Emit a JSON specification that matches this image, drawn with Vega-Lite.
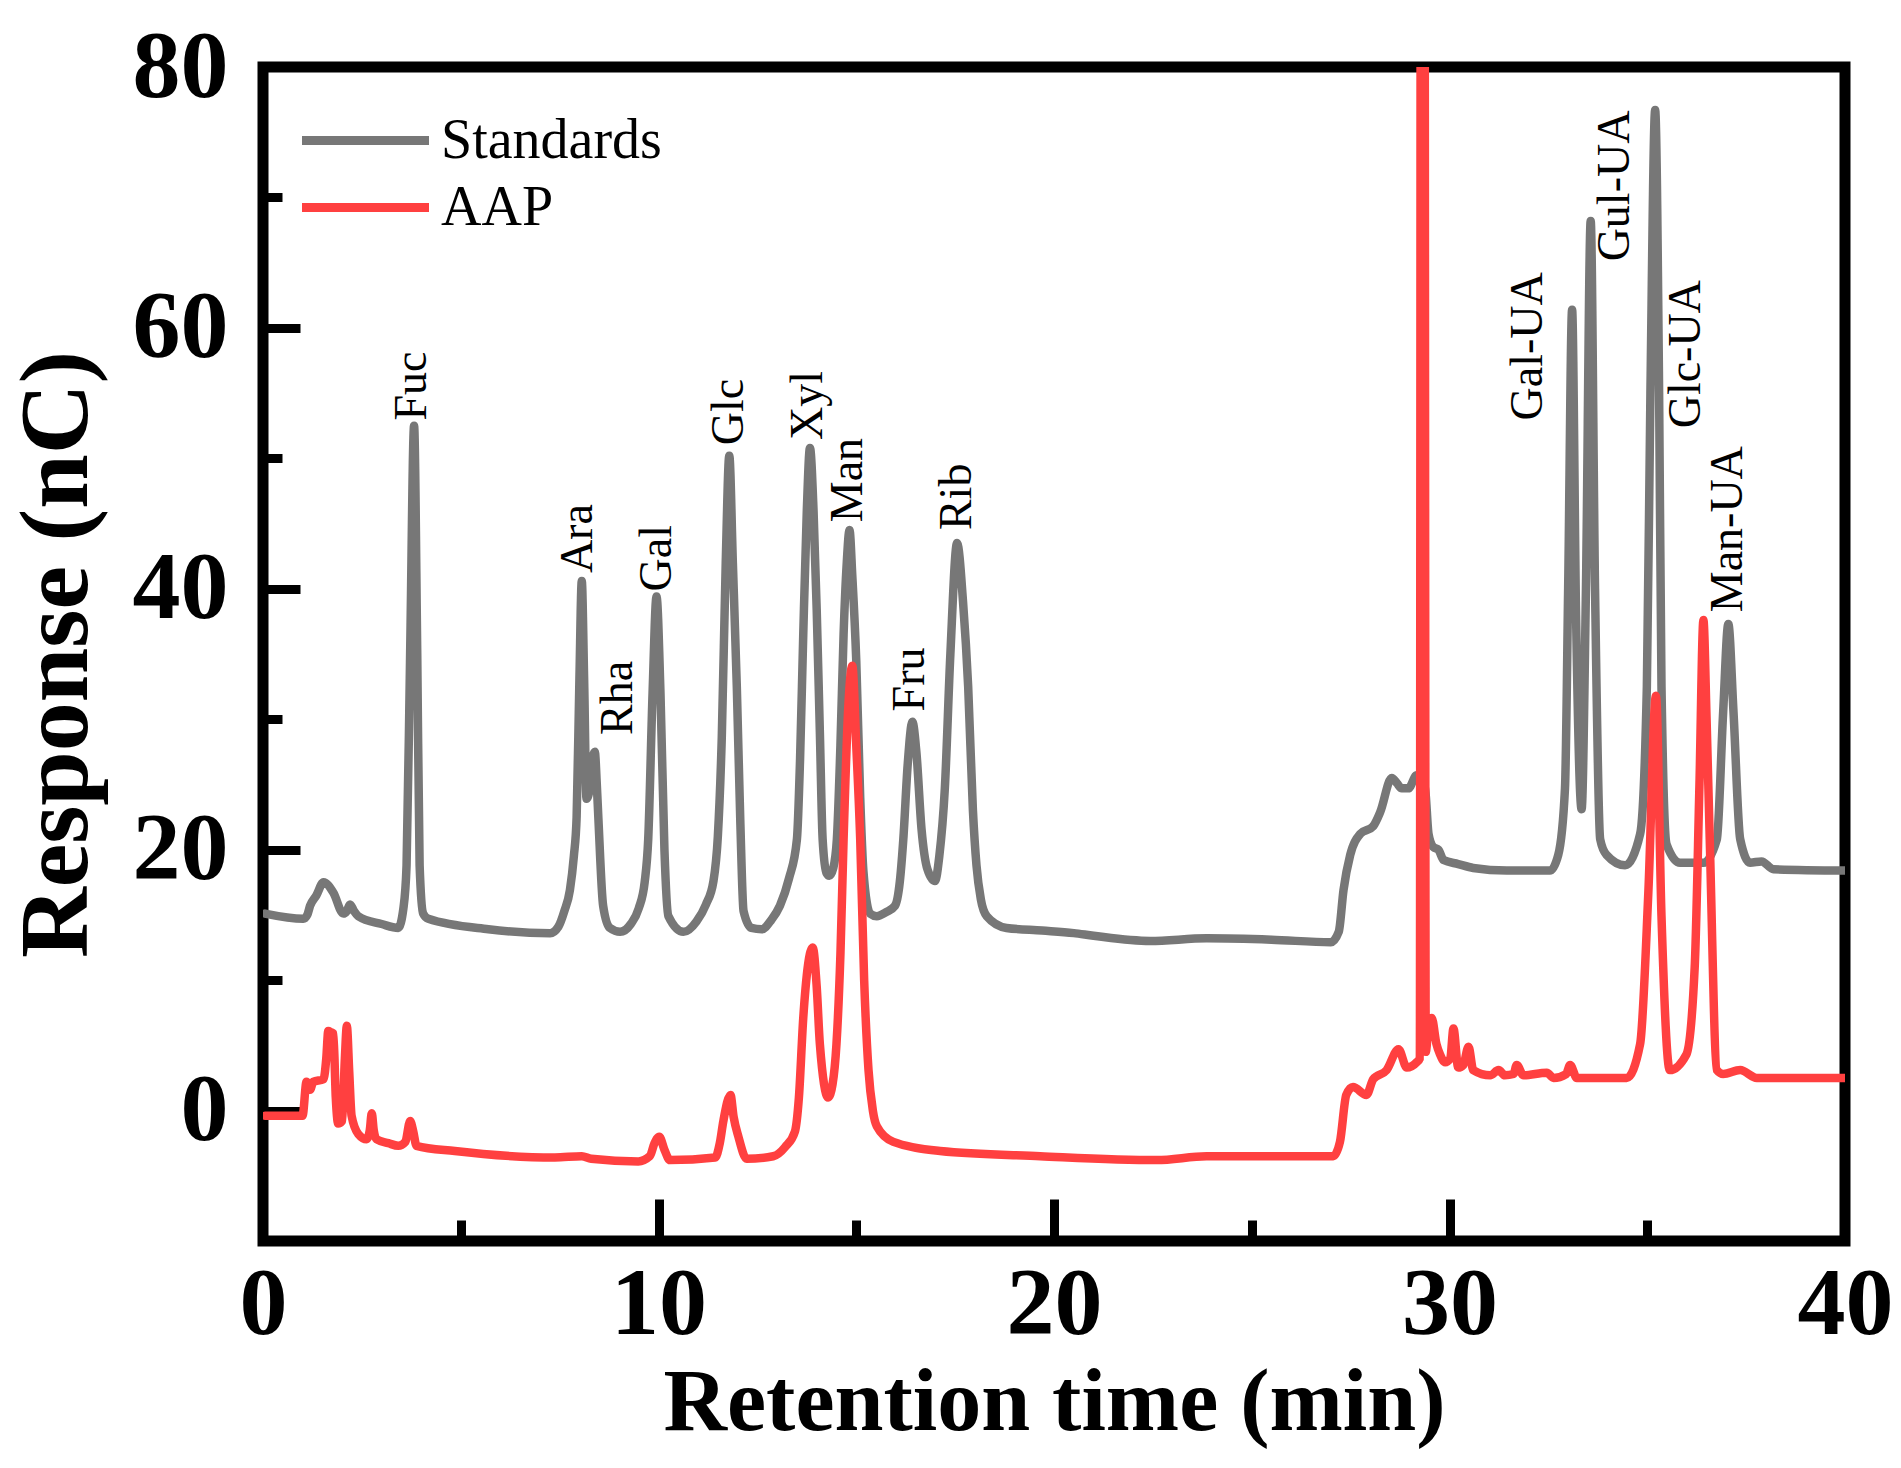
{
  "$schema": "https://vega.github.io/schema/vega-lite/v6.json",
  "autosize": {"type": "none"},
  "padding": {"left": 263, "top": 67, "right": 56, "bottom": 227},
  "width": 1582,
  "height": 1174,
  "background": "white",
  "config": {
    "view": {"stroke": "black", "strokeWidth": 11},
    "axis": {
      "domain": false,
      "grid": false,
      "tickColor": "black",
      "tickWidth": 9,
      "labelFont": "Liberation Serif",
      "labelFontWeight": "bold",
      "labelFontSize": 96,
      "labelColor": "black",
      "labelFlush": false,
      "labelOverlap": false,
      "labelBound": false,
      "titleFont": "Liberation Serif",
      "titleFontWeight": "bold",
      "titleColor": "black"
    }
  },
  "datasets": {
    "curves": [
      {"series": "Standards", "time": 0.05, "response": 15.1},
      {"series": "Standards", "time": 1.02, "response": 14.7},
      {"series": "Standards", "time": 1.12, "response": 15.0},
      {"series": "Standards", "time": 1.19, "response": 15.7},
      {"series": "Standards", "time": 1.35, "response": 16.5},
      {"series": "Standards", "time": 1.53, "response": 17.5},
      {"series": "Standards", "time": 1.78, "response": 16.7},
      {"series": "Standards", "time": 2.03, "response": 15.1},
      {"series": "Standards", "time": 2.12, "response": 15.3},
      {"series": "Standards", "time": 2.2, "response": 15.8},
      {"series": "Standards", "time": 2.3, "response": 15.3},
      {"series": "Standards", "time": 2.41, "response": 14.9},
      {"series": "Standards", "time": 3.0, "response": 14.3},
      {"series": "Standards", "time": 3.42, "response": 14.0},
      {"series": "Standards", "time": 3.55, "response": 15.5},
      {"series": "Standards", "time": 3.63, "response": 18.8},
      {"series": "Standards", "time": 3.72, "response": 35},
      {"series": "Standards", "time": 3.82, "response": 52.5},
      {"series": "Standards", "time": 3.9, "response": 35},
      {"series": "Standards", "time": 3.96, "response": 18.8},
      {"series": "Standards", "time": 4.05, "response": 15.1},
      {"series": "Standards", "time": 4.18, "response": 14.7},
      {"series": "Standards", "time": 5.7, "response": 13.9},
      {"series": "Standards", "time": 7.26, "response": 13.6},
      {"series": "Standards", "time": 7.47, "response": 14.1},
      {"series": "Standards", "time": 7.62, "response": 15.3},
      {"series": "Standards", "time": 7.76, "response": 16.9},
      {"series": "Standards", "time": 7.86, "response": 19.5},
      {"series": "Standards", "time": 7.93, "response": 22.5},
      {"series": "Standards", "time": 8.0, "response": 33},
      {"series": "Standards", "time": 8.06, "response": 40.6},
      {"series": "Standards", "time": 8.12, "response": 33},
      {"series": "Standards", "time": 8.18, "response": 23.9},
      {"series": "Standards", "time": 8.25, "response": 24.5},
      {"series": "Standards", "time": 8.33, "response": 27},
      {"series": "Standards", "time": 8.39, "response": 27.5},
      {"series": "Standards", "time": 8.44, "response": 25},
      {"series": "Standards", "time": 8.48, "response": 22.4},
      {"series": "Standards", "time": 8.6, "response": 15.7},
      {"series": "Standards", "time": 8.77, "response": 14.0},
      {"series": "Standards", "time": 9.03, "response": 13.7},
      {"series": "Standards", "time": 9.3, "response": 14.3},
      {"series": "Standards", "time": 9.5, "response": 15.5},
      {"series": "Standards", "time": 9.65, "response": 17.5},
      {"series": "Standards", "time": 9.74, "response": 20.8},
      {"series": "Standards", "time": 9.85, "response": 32},
      {"series": "Standards", "time": 9.95, "response": 39.4},
      {"series": "Standards", "time": 10.05, "response": 32},
      {"series": "Standards", "time": 10.15, "response": 20},
      {"series": "Standards", "time": 10.25, "response": 14.9},
      {"series": "Standards", "time": 10.63, "response": 13.7},
      {"series": "Standards", "time": 10.96, "response": 14.5},
      {"series": "Standards", "time": 11.2, "response": 15.8},
      {"series": "Standards", "time": 11.39, "response": 17.6},
      {"series": "Standards", "time": 11.5, "response": 21},
      {"series": "Standards", "time": 11.6, "response": 28.6},
      {"series": "Standards", "time": 11.7, "response": 42},
      {"series": "Standards", "time": 11.79, "response": 50.2},
      {"series": "Standards", "time": 11.88, "response": 42},
      {"series": "Standards", "time": 11.98, "response": 32.5},
      {"series": "Standards", "time": 12.07, "response": 22},
      {"series": "Standards", "time": 12.15, "response": 15.3},
      {"series": "Standards", "time": 12.35, "response": 14.0},
      {"series": "Standards", "time": 12.61, "response": 13.9},
      {"series": "Standards", "time": 12.85, "response": 14.6},
      {"series": "Standards", "time": 13.07, "response": 15.7},
      {"series": "Standards", "time": 13.3, "response": 17.8},
      {"series": "Standards", "time": 13.5, "response": 20.8},
      {"series": "Standards", "time": 13.58, "response": 27},
      {"series": "Standards", "time": 13.66, "response": 36.5},
      {"series": "Standards", "time": 13.75, "response": 46},
      {"series": "Standards", "time": 13.83, "response": 50.8},
      {"series": "Standards", "time": 13.92, "response": 46},
      {"series": "Standards", "time": 14.0, "response": 38.4},
      {"series": "Standards", "time": 14.08, "response": 29},
      {"series": "Standards", "time": 14.15, "response": 20.8},
      {"series": "Standards", "time": 14.25, "response": 18.2},
      {"series": "Standards", "time": 14.32, "response": 18.0},
      {"series": "Standards", "time": 14.42, "response": 18.6},
      {"series": "Standards", "time": 14.51, "response": 20.8},
      {"series": "Standards", "time": 14.6, "response": 28},
      {"series": "Standards", "time": 14.68, "response": 36.5},
      {"series": "Standards", "time": 14.76, "response": 42},
      {"series": "Standards", "time": 14.83, "response": 44.5},
      {"series": "Standards", "time": 14.9, "response": 41},
      {"series": "Standards", "time": 15.0, "response": 34.5},
      {"series": "Standards", "time": 15.1, "response": 24},
      {"series": "Standards", "time": 15.18, "response": 18.4},
      {"series": "Standards", "time": 15.35, "response": 15.1},
      {"series": "Standards", "time": 15.52, "response": 14.9},
      {"series": "Standards", "time": 15.75, "response": 15.2},
      {"series": "Standards", "time": 15.98, "response": 15.7},
      {"series": "Standards", "time": 16.1, "response": 17.5},
      {"series": "Standards", "time": 16.19, "response": 20.8},
      {"series": "Standards", "time": 16.3, "response": 26.5},
      {"series": "Standards", "time": 16.42, "response": 29.8},
      {"series": "Standards", "time": 16.52, "response": 27.5},
      {"series": "Standards", "time": 16.65, "response": 21.6},
      {"series": "Standards", "time": 16.8, "response": 18.5},
      {"series": "Standards", "time": 16.99, "response": 17.6},
      {"series": "Standards", "time": 17.1, "response": 19.5},
      {"series": "Standards", "time": 17.24, "response": 24.7},
      {"series": "Standards", "time": 17.38, "response": 35},
      {"series": "Standards", "time": 17.55, "response": 43.5},
      {"series": "Standards", "time": 17.7, "response": 39},
      {"series": "Standards", "time": 17.83, "response": 32.5},
      {"series": "Standards", "time": 17.95, "response": 23},
      {"series": "Standards", "time": 18.04, "response": 18.8},
      {"series": "Standards", "time": 18.15, "response": 16.2},
      {"series": "Standards", "time": 18.3, "response": 14.9},
      {"series": "Standards", "time": 18.8, "response": 14.0},
      {"series": "Standards", "time": 19.7, "response": 13.8},
      {"series": "Standards", "time": 20.5, "response": 13.6},
      {"series": "Standards", "time": 21.0, "response": 13.4},
      {"series": "Standards", "time": 22.43, "response": 13.0},
      {"series": "Standards", "time": 23.86, "response": 13.2},
      {"series": "Standards", "time": 25.5, "response": 13.1},
      {"series": "Standards", "time": 27.0, "response": 12.9},
      {"series": "Standards", "time": 27.2, "response": 13.7},
      {"series": "Standards", "time": 27.32, "response": 16.9},
      {"series": "Standards", "time": 27.49, "response": 19.6},
      {"series": "Standards", "time": 27.74, "response": 21.2},
      {"series": "Standards", "time": 28.07, "response": 21.8},
      {"series": "Standards", "time": 28.25, "response": 22.9},
      {"series": "Standards", "time": 28.54, "response": 25.5},
      {"series": "Standards", "time": 28.67, "response": 25.1},
      {"series": "Standards", "time": 28.79, "response": 24.7},
      {"series": "Standards", "time": 28.96, "response": 24.7},
      {"series": "Standards", "time": 29.17, "response": 25.7},
      {"series": "Standards", "time": 29.38, "response": 24.7},
      {"series": "Standards", "time": 29.47, "response": 21.2},
      {"series": "Standards", "time": 29.59, "response": 20.2},
      {"series": "Standards", "time": 29.72, "response": 20.0},
      {"series": "Standards", "time": 29.85, "response": 19.2},
      {"series": "Standards", "time": 30.22, "response": 18.9},
      {"series": "Standards", "time": 30.6, "response": 18.6},
      {"series": "Standards", "time": 31.45, "response": 18.4},
      {"series": "Standards", "time": 32.54, "response": 18.4},
      {"series": "Standards", "time": 32.75, "response": 19.6},
      {"series": "Standards", "time": 32.92, "response": 24.7},
      {"series": "Standards", "time": 33.0, "response": 40},
      {"series": "Standards", "time": 33.1, "response": 61.4},
      {"series": "Standards", "time": 33.2, "response": 38},
      {"series": "Standards", "time": 33.34, "response": 23.1},
      {"series": "Standards", "time": 33.45, "response": 40},
      {"series": "Standards", "time": 33.57, "response": 68.2},
      {"series": "Standards", "time": 33.68, "response": 40},
      {"series": "Standards", "time": 33.81, "response": 20.8},
      {"series": "Standards", "time": 33.97, "response": 19.6},
      {"series": "Standards", "time": 34.44, "response": 18.8},
      {"series": "Standards", "time": 34.82, "response": 21.2},
      {"series": "Standards", "time": 34.99, "response": 32.5},
      {"series": "Standards", "time": 35.08, "response": 55},
      {"series": "Standards", "time": 35.2, "response": 76.7},
      {"series": "Standards", "time": 35.3, "response": 55},
      {"series": "Standards", "time": 35.36, "response": 32.5},
      {"series": "Standards", "time": 35.49, "response": 20.4},
      {"series": "Standards", "time": 35.83, "response": 19.0},
      {"series": "Standards", "time": 36.42, "response": 19.0},
      {"series": "Standards", "time": 36.76, "response": 20.8},
      {"series": "Standards", "time": 36.92, "response": 30.6},
      {"series": "Standards", "time": 37.05, "response": 37.3},
      {"series": "Standards", "time": 37.18, "response": 30.6},
      {"series": "Standards", "time": 37.35, "response": 20.8},
      {"series": "Standards", "time": 37.6, "response": 19.0},
      {"series": "Standards", "time": 37.89, "response": 19.1},
      {"series": "Standards", "time": 38.19, "response": 18.5},
      {"series": "Standards", "time": 40.0, "response": 18.4},
      {"series": "AAP", "time": 0.05, "response": -0.4},
      {"series": "AAP", "time": 1.0, "response": -0.4},
      {"series": "AAP", "time": 1.1, "response": 2.2},
      {"series": "AAP", "time": 1.19, "response": 1.6},
      {"series": "AAP", "time": 1.27, "response": 2.2},
      {"series": "AAP", "time": 1.53, "response": 2.4},
      {"series": "AAP", "time": 1.6, "response": 4},
      {"series": "AAP", "time": 1.65, "response": 6.1},
      {"series": "AAP", "time": 1.72, "response": 6.0},
      {"series": "AAP", "time": 1.78, "response": 5.9},
      {"series": "AAP", "time": 1.84, "response": 1},
      {"series": "AAP", "time": 1.9, "response": -1.0},
      {"series": "AAP", "time": 2.0, "response": -0.8},
      {"series": "AAP", "time": 2.07, "response": 4},
      {"series": "AAP", "time": 2.12, "response": 6.5},
      {"series": "AAP", "time": 2.18, "response": 3},
      {"series": "AAP", "time": 2.24, "response": -0.4},
      {"series": "AAP", "time": 2.41, "response": -1.8},
      {"series": "AAP", "time": 2.62, "response": -2.2},
      {"series": "AAP", "time": 2.7, "response": -1.5},
      {"series": "AAP", "time": 2.75, "response": -0.2},
      {"series": "AAP", "time": 2.8, "response": -1.5},
      {"series": "AAP", "time": 2.87, "response": -2.2},
      {"series": "AAP", "time": 3.17, "response": -2.5},
      {"series": "AAP", "time": 3.42, "response": -2.7},
      {"series": "AAP", "time": 3.6, "response": -2.4},
      {"series": "AAP", "time": 3.72, "response": -0.8},
      {"series": "AAP", "time": 3.8, "response": -1.6},
      {"series": "AAP", "time": 3.88, "response": -2.7},
      {"series": "AAP", "time": 4.85, "response": -3.1},
      {"series": "AAP", "time": 7.38, "response": -3.6},
      {"series": "AAP", "time": 8.06, "response": -3.5},
      {"series": "AAP", "time": 8.3, "response": -3.7},
      {"series": "AAP", "time": 9.49, "response": -3.9},
      {"series": "AAP", "time": 9.78, "response": -3.5},
      {"series": "AAP", "time": 9.9, "response": -2.5},
      {"series": "AAP", "time": 10.02, "response": -2.0},
      {"series": "AAP", "time": 10.15, "response": -3.0},
      {"series": "AAP", "time": 10.29, "response": -3.8},
      {"series": "AAP", "time": 11.43, "response": -3.6},
      {"series": "AAP", "time": 11.55, "response": -2.5},
      {"series": "AAP", "time": 11.64, "response": -0.8},
      {"series": "AAP", "time": 11.82, "response": 1.2},
      {"series": "AAP", "time": 11.9, "response": -0.5},
      {"series": "AAP", "time": 12.02, "response": -2.0},
      {"series": "AAP", "time": 12.23, "response": -3.7},
      {"series": "AAP", "time": 12.9, "response": -3.5},
      {"series": "AAP", "time": 13.2, "response": -2.8},
      {"series": "AAP", "time": 13.45, "response": -1.6},
      {"series": "AAP", "time": 13.55, "response": 1},
      {"series": "AAP", "time": 13.66, "response": 7.1},
      {"series": "AAP", "time": 13.9, "response": 12.5},
      {"series": "AAP", "time": 14.0, "response": 9.5},
      {"series": "AAP", "time": 14.08, "response": 5.1},
      {"series": "AAP", "time": 14.29, "response": 1.0},
      {"series": "AAP", "time": 14.4, "response": 2},
      {"series": "AAP", "time": 14.5, "response": 5.1},
      {"series": "AAP", "time": 14.6, "response": 12},
      {"series": "AAP", "time": 14.68, "response": 20.8},
      {"series": "AAP", "time": 14.8, "response": 31},
      {"series": "AAP", "time": 14.9, "response": 34.1},
      {"series": "AAP", "time": 15.0, "response": 28},
      {"series": "AAP", "time": 15.1, "response": 20.8},
      {"series": "AAP", "time": 15.2, "response": 10},
      {"series": "AAP", "time": 15.31, "response": 3.1},
      {"series": "AAP", "time": 15.42, "response": 0},
      {"series": "AAP", "time": 15.52, "response": -1.2},
      {"series": "AAP", "time": 15.94, "response": -2.4},
      {"series": "AAP", "time": 17.12, "response": -3.1},
      {"series": "AAP", "time": 19.65, "response": -3.5},
      {"series": "AAP", "time": 22.6, "response": -3.8},
      {"series": "AAP", "time": 23.86, "response": -3.5},
      {"series": "AAP", "time": 27.06, "response": -3.5},
      {"series": "AAP", "time": 27.23, "response": -2.4},
      {"series": "AAP", "time": 27.39, "response": 1.2},
      {"series": "AAP", "time": 27.56, "response": 1.8},
      {"series": "AAP", "time": 27.9, "response": 1.2},
      {"series": "AAP", "time": 28.07, "response": 2.4},
      {"series": "AAP", "time": 28.41, "response": 3.1},
      {"series": "AAP", "time": 28.71, "response": 4.7},
      {"series": "AAP", "time": 28.92, "response": 3.3},
      {"series": "AAP", "time": 29.17, "response": 3.7},
      {"series": "AAP", "time": 29.25, "response": 4.0},
      {"series": "AAP", "time": 29.28, "response": 120},
      {"series": "AAP", "time": 29.36, "response": 120},
      {"series": "AAP", "time": 29.4, "response": 4.5},
      {"series": "AAP", "time": 29.47, "response": 6.5},
      {"series": "AAP", "time": 29.55, "response": 7.1},
      {"series": "AAP", "time": 29.67, "response": 5.1},
      {"series": "AAP", "time": 29.76, "response": 4.3},
      {"series": "AAP", "time": 29.89, "response": 3.7},
      {"series": "AAP", "time": 30.02, "response": 4},
      {"series": "AAP", "time": 30.1, "response": 6.3},
      {"series": "AAP", "time": 30.22, "response": 3.3},
      {"series": "AAP", "time": 30.35, "response": 3.5},
      {"series": "AAP", "time": 30.48, "response": 4.9},
      {"series": "AAP", "time": 30.6, "response": 3.1},
      {"series": "AAP", "time": 31.03, "response": 2.7},
      {"series": "AAP", "time": 31.24, "response": 3.1},
      {"series": "AAP", "time": 31.4, "response": 2.7},
      {"series": "AAP", "time": 31.62, "response": 2.8},
      {"series": "AAP", "time": 31.7, "response": 3.5},
      {"series": "AAP", "time": 31.87, "response": 2.7},
      {"series": "AAP", "time": 32.46, "response": 2.9},
      {"series": "AAP", "time": 32.63, "response": 2.5},
      {"series": "AAP", "time": 32.95, "response": 2.8},
      {"series": "AAP", "time": 33.05, "response": 3.5},
      {"series": "AAP", "time": 33.22, "response": 2.5},
      {"series": "AAP", "time": 34.48, "response": 2.5},
      {"series": "AAP", "time": 34.82, "response": 5.1},
      {"series": "AAP", "time": 35.03, "response": 16.9},
      {"series": "AAP", "time": 35.22, "response": 31.8},
      {"series": "AAP", "time": 35.36, "response": 14.9},
      {"series": "AAP", "time": 35.57, "response": 3.1},
      {"series": "AAP", "time": 35.99, "response": 4.3},
      {"series": "AAP", "time": 36.2, "response": 11.0},
      {"series": "AAP", "time": 36.32, "response": 25},
      {"series": "AAP", "time": 36.42, "response": 37.6},
      {"series": "AAP", "time": 36.5, "response": 30},
      {"series": "AAP", "time": 36.58, "response": 20.8},
      {"series": "AAP", "time": 36.76, "response": 3.1},
      {"series": "AAP", "time": 36.92, "response": 2.8},
      {"series": "AAP", "time": 37.35, "response": 3.1},
      {"series": "AAP", "time": 37.77, "response": 2.5},
      {"series": "AAP", "time": 40.0, "response": 2.5}
    ],
    "peaks": [
      {"name": "Fuc", "time": 3.76, "response": 52.9},
      {"name": "Ara", "time": 7.96, "response": 41.2},
      {"name": "Rha", "time": 8.98, "response": 28.8},
      {"name": "Gal", "time": 9.95, "response": 39.8},
      {"name": "Glc", "time": 11.77, "response": 51.0},
      {"name": "Xyl", "time": 13.79, "response": 51.4},
      {"name": "Man", "time": 14.8, "response": 45.1},
      {"name": "Fru", "time": 16.36, "response": 30.6},
      {"name": "Rib", "time": 17.54, "response": 44.5},
      {"name": "Gal-UA", "time": 31.99, "response": 52.9},
      {"name": "Gul-UA", "time": 34.19, "response": 65.1},
      {"name": "Glc-UA", "time": 35.99, "response": 52.3},
      {"name": "Man-UA", "time": 37.05, "response": 38.2}
    ]
  },
  "layer": [
    {
      "data": {"name": "curves"},
      "mark": {"type": "line", "interpolate": "monotone", "strokeWidth": 8.5, "strokeJoin": "round", "strokeCap": "round", "clip": true},
      "encoding": {
        "x": {
          "field": "time",
          "type": "quantitative",
          "scale": {"domain": [0, 40], "nice": false, "zero": false},
          "axis": {
            "values": [0, 5, 10, 15, 20, 25, 30, 35, 40],
            "labelExpr": "datum.value % 10 === 0 ? datum.label : ''",
            "tickSize": {"condition": {"test": "datum.value % 10 === 0", "value": -42}, "value": -21},
            "labelPadding": 58,
            "title": "Retention time (min)",
            "titleFontSize": 88,
            "titlePadding": -14
          }
        },
        "y": {
          "field": "response",
          "type": "quantitative",
          "scale": {"domain": [-10, 80], "nice": false, "zero": false},
          "axis": {
            "values": [0, 10, 20, 30, 40, 50, 60, 70, 80],
            "labelExpr": "datum.value % 20 === 0 ? datum.label : ''",
            "tickSize": {"condition": {"test": "datum.value % 20 === 0", "value": -37}, "value": -19},
            "labelPadding": 72,
            "title": "Response (nC)",
            "titleFontSize": 98,
            "titlePadding": 25
          }
        },
        "color": {
          "field": "series",
          "type": "nominal",
          "scale": {"domain": ["Standards", "AAP"], "range": ["#777777", "#FF4040"]},
          "legend": {
            "title": null,
            "orient": "none",
            "legendX": 66,
            "legendY": 37,
            "symbolType": "M-2,0H2",
            "symbolSize": 4032,
            "symbolStrokeWidth": 9,
            "labelFont": "Liberation Serif",
            "labelFontSize": 56,
            "labelColor": "black",
            "labelLimit": 0,
            "labelOffset": 39
          }
        }
      }
    },
    {
      "data": {"name": "peaks"},
      "mark": {"type": "text", "angle": 270, "align": "left", "baseline": "middle", "font": "Liberation Serif", "fontSize": 46, "color": "black"},
      "encoding": {
        "x": {"field": "time", "type": "quantitative"},
        "y": {"field": "response", "type": "quantitative"},
        "text": {"field": "name"}
      }
    }
  ]
}
